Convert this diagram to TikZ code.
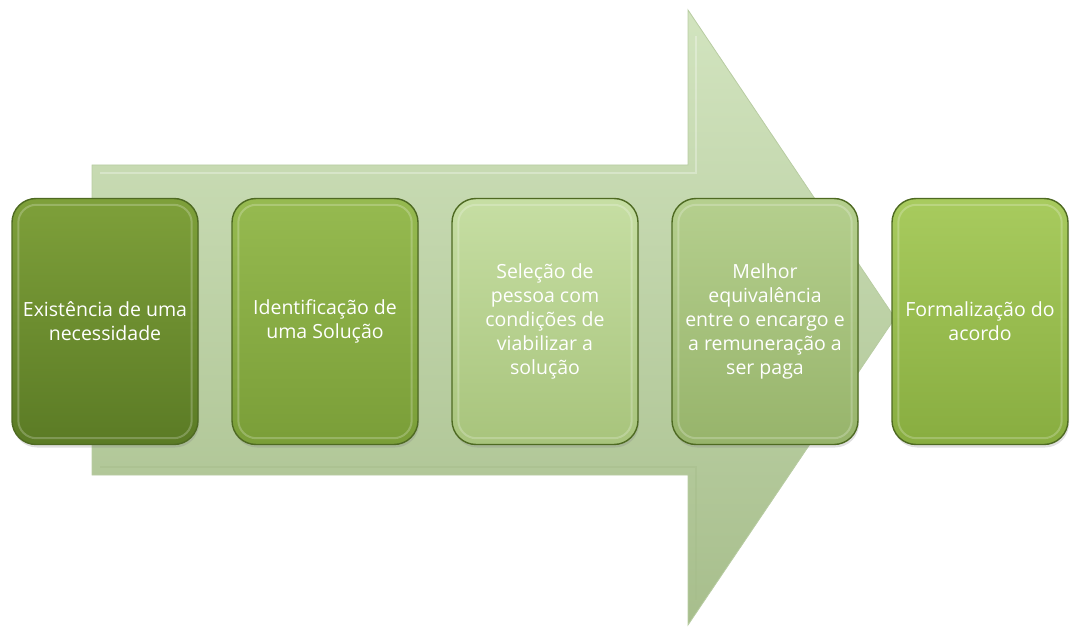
\documentclass[tikz,border=0pt]{standalone}
\usepackage{fontspec}
\setmainfont{Open Sans}
\usetikzlibrary{shadows}
\hyphenpenalty=10000
\exhyphenpenalty=10000
\definecolor{arrtop}{HTML}{D2E4BF}
\definecolor{arrbot}{HTML}{A7BE8C}
\definecolor{arredge}{HTML}{B8CCA2}
\definecolor{bAt}{HTML}{7EA03A}\definecolor{bAb}{HTML}{5B7B25}
\definecolor{bBt}{HTML}{96BA50}\definecolor{bBb}{HTML}{7A9E38}
\definecolor{bCt}{HTML}{C6DEA3}\definecolor{bCb}{HTML}{A8C47C}
\definecolor{bDt}{HTML}{B5CF8E}\definecolor{bDb}{HTML}{97B46B}
\definecolor{bEt}{HTML}{A8CB5E}\definecolor{bEb}{HTML}{88AD40}
\definecolor{boxedge}{HTML}{4E6A22}
\tikzset{
  stagebox/.style={rounded corners=24pt, draw=boxedge, line width=1.4pt,
    minimum width=186pt, minimum height=246pt, inner sep=2pt,
    align=center, text=white,
    font=\fontsize{19.5}{24}\selectfont,
    drop shadow={shadow xshift=1pt, shadow yshift=-3pt, opacity=0.25}},
  glint/.style={rounded corners=18pt, draw=white, draw opacity=0.22, line width=2pt}
}
\begin{document}
\begin{tikzpicture}[x=1pt,y=-1pt]
\useasboundingbox (0,0) rectangle (1070,628);
% big arrow
\shade[top color=arrtop, bottom color=arrbot, draw=arredge, line width=0.8pt]
  (92,165) -- (688,165) -- (688,10) -- (895,318) -- (688,625) -- (688,475) -- (92,475) -- cycle;
\draw[white, opacity=0.3, line width=1.5pt] (100,173) -- (696,173) -- (696,36);
\draw[arrbot, opacity=0.5, line width=1.5pt] (100,467) -- (696,467) -- (696,600);
% boxes
\node[stagebox, top color=bAt, bottom color=bAb] (s1) at (105,321.5) {Existência de uma\\necessidade};
\node[stagebox, top color=bBt, bottom color=bBb] (s2) at (325,321.5) {Identificação de\\uma Solução};
\node[stagebox, top color=bCt, bottom color=bCb] (s3) at (545,321.5) {Seleção de\\pessoa com\\condições de\\viabilizar a\\solução};
\node[stagebox, top color=bDt, bottom color=bDb] (s4) at (765,321.5) {Melhor\\equivalência\\entre o encargo e\\a remuneração a\\ser paga};
\node[stagebox, minimum width=176pt, top color=bEt, bottom color=bEb] (s5) at (980,321.5) {Formalização do\\acordo};
\foreach \n in {s1,s2,s3,s4,s5}{
  \draw[glint] ([shift={(7pt,-7pt)}]\n.north west) rectangle ([shift={(-7pt,7pt)}]\n.south east);
}
\end{tikzpicture}
\end{document}
